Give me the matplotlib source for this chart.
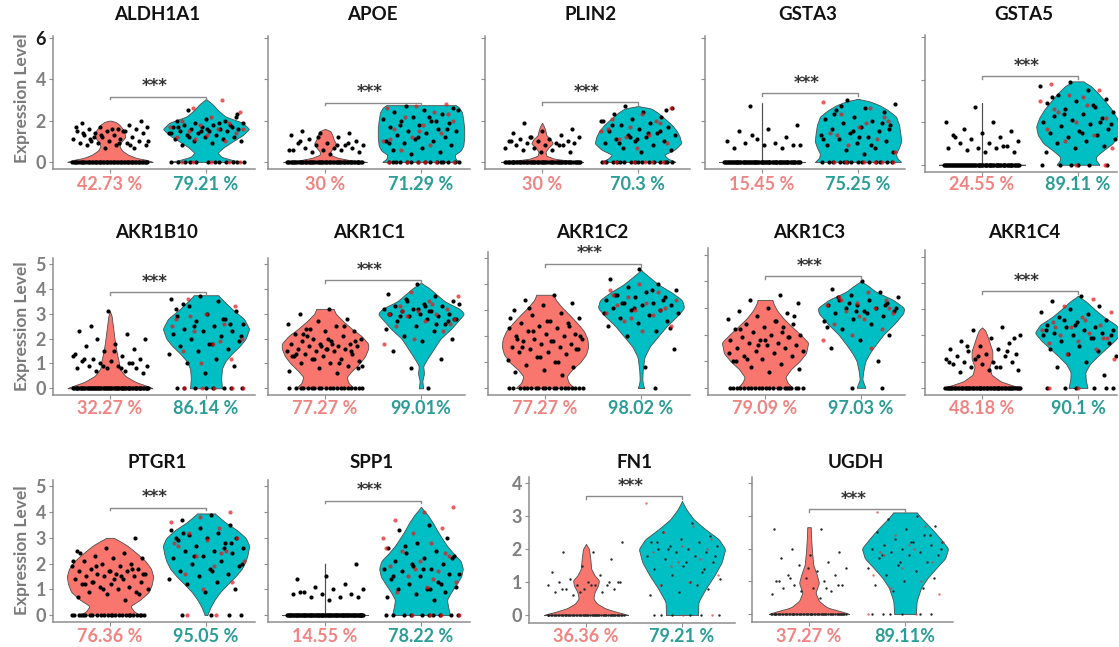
import numpy as np
import matplotlib
matplotlib.use("Agg")
import matplotlib.pyplot as plt

plt.rcParams['font.family'] = ['Lato', 'DejaVu Sans']

# ---------------- DATA ----------------
genes = ["ALDH1A1", "APOE", "PLIN2", "GSTA3", "GSTA5",
         "AKR1B10", "AKR1C1", "AKR1C2", "AKR1C3", "AKR1C4",
         "PTGR1", "SPP1", "FN1", "UGDH"]

pct_low = ["42.73 %", "30 %", "30 %", "15.45 %", "24.55 %",
           "32.27 %", "77.27 %", "77.27 %", "79.09 %", "48.18 %",
           "76.36 %", "14.55 %", "36.36 %", "37.27 %"]
pct_high = ["79.21 %", "71.29 %", "70.3 %", "75.25 %", "89.11 %",
            "86.14 %", "99.01%", "98.02 %", "97.03 %", "90.1 %",
            "95.05 %", "78.22 %", "79.21 %", "89.11%"]
signif = "***"
bracket_level = [3.16, 2.87, 2.9, 3.33, 4.15,
                 3.88, 4.36, 4.8, 4.18, 3.68,
                 4.18, 4.45, 3.6, 3.2]

# violin outlines: expression levels and relative half-widths
low_shape_y = {
 "ALDH1A1": [0, 0.1, 0.2, 0.35, 0.55, 0.75, 0.95, 1.2, 1.5, 1.8, 1.95, 2.0],
 "APOE":    [0, 0.08, 0.2, 0.35, 0.5, 0.7, 0.9, 1.1, 1.3, 1.5, 1.6],
 "PLIN2":   [0, 0.05, 0.15, 0.3, 0.5, 0.7, 0.9, 1.1, 1.3, 1.5, 1.7, 1.9],
 "GSTA3":   [0, 0.03, 2.85],
 "GSTA5":   [0, 0.03, 2.9],
 "AKR1B10": [0, 0.1, 0.25, 0.5, 0.8, 1.1, 1.4, 1.8, 2.2, 2.6, 2.9, 3.1],
 "AKR1C1":  [0, 0.2, 0.45, 0.7, 1.0, 1.3, 1.6, 1.8, 2.1, 2.4, 2.7, 3.0, 3.2],
 "AKR1C2":  [0, 0.2, 0.45, 0.7, 1.0, 1.3, 1.6, 1.9, 2.2, 2.5, 2.8, 3.1, 3.4, 3.6],
 "AKR1C3":  [0, 0.2, 0.4, 0.7, 1.0, 1.3, 1.7, 2.0, 2.3, 2.6, 2.9, 3.15, 3.3],
 "AKR1C4":  [0, 0.1, 0.25, 0.5, 0.8, 1.1, 1.4, 1.7, 2.0, 2.2, 2.3],
 "PTGR1":   [0, 0.15, 0.35, 0.6, 0.9, 1.2, 1.5, 1.8, 2.1, 2.4, 2.7, 2.9, 3.0],
 "SPP1":    [0, 0.03, 2.0],
 "FN1":     [0, 0.1, 0.2, 0.35, 0.5, 0.7, 0.9, 1.05, 1.2, 1.4, 1.7, 2.0, 2.15],
 "UGDH":    [0, 0.1, 0.2, 0.4, 0.65, 0.95, 1.2, 1.5, 1.9, 2.3, 2.65],
}
low_shape_w = {
 "ALDH1A1": [1, 0.85, 0.6, 0.42, 0.28, 0.22, 0.25, 0.35, 0.33, 0.22, 0.12, 0],
 "APOE":    [1, 0.6, 0.3, 0.12, 0.12, 0.2, 0.25, 0.2, 0.17, 0.12, 0],
 "PLIN2":   [1, 0.7, 0.3, 0.1, 0.08, 0.15, 0.25, 0.2, 0.1, 0.08, 0.05, 0],
 "GSTA3":   [1, 0.004, 0.004],
 "GSTA5":   [1, 0.004, 0.004],
 "AKR1B10": [1, 0.85, 0.6, 0.35, 0.22, 0.2, 0.16, 0.12, 0.09, 0.06, 0.04, 0],
 "AKR1C1":  [0.68, 0.55, 0.5, 0.62, 0.8, 0.93, 1.0, 1.0, 0.85, 0.62, 0.42, 0.25, 0.2],
 "AKR1C2":  [0.68, 0.55, 0.5, 0.62, 0.82, 0.95, 1.0, 0.98, 0.9, 0.75, 0.58, 0.4, 0.25, 0.2],
 "AKR1C3":  [0.64, 0.52, 0.47, 0.6, 0.8, 0.95, 1.0, 0.82, 0.62, 0.43, 0.28, 0.2, 0.17],
 "AKR1C4":  [0.92, 0.7, 0.43, 0.22, 0.17, 0.24, 0.24, 0.18, 0.12, 0.07, 0],
 "PTGR1":   [0.69, 0.55, 0.47, 0.7, 0.9, 0.97, 1.0, 0.95, 0.82, 0.62, 0.4, 0.2, 0.08],
 "SPP1":    [1, 0.004, 0.004],
 "FN1":     [1, 0.7, 0.45, 0.25, 0.17, 0.2, 0.28, 0.3, 0.2, 0.12, 0.1, 0.07, 0],
 "UGDH":    [0.96, 0.7, 0.42, 0.23, 0.15, 0.23, 0.18, 0.1, 0.07, 0.05, 0.04],
}
high_shape_y = {
 "ALDH1A1": [0, 0.1, 0.25, 0.45, 0.7, 1.0, 1.3, 1.6, 1.9, 2.2, 2.5, 2.8, 3.05],
 "APOE":    [0, 0.15, 0.35, 0.55, 0.8, 1.2, 1.6, 2.0, 2.4, 2.65, 2.75],
 "PLIN2":   [0, 0.15, 0.35, 0.6, 0.9, 1.2, 1.5, 1.8, 2.1, 2.4, 2.6, 2.7],
 "GSTA3":   [0, 0.2, 0.4, 0.7, 1.0, 1.4, 1.8, 2.2, 2.5, 2.75, 2.95, 3.05],
 "GSTA5":   [0, 0.2, 0.4, 0.7, 1.0, 1.4, 1.8, 2.2, 2.6, 3.0, 3.4, 3.7, 3.92],
 "AKR1B10": [0, 0.4, 0.8, 1.1, 1.4, 1.7, 2.0, 2.4, 2.8, 3.2, 3.5, 3.75],
 "AKR1C1":  [0, 0.3, 0.6, 0.9, 1.2, 1.6, 2.0, 2.4, 2.8, 3.0, 3.2, 3.5, 3.8, 4.05, 4.25],
 "AKR1C2":  [0, 0.1, 0.3, 0.7, 1.2, 1.6, 2.0, 2.4, 2.8, 3.1, 3.4, 3.7, 4.0, 4.3, 4.55],
 "AKR1C3":  [0, 0.1, 0.3, 0.6, 1.0, 1.3, 1.6, 2.0, 2.4, 2.8, 3.0, 3.3, 3.6, 3.85, 4.0],
 "AKR1C4":  [0, 0.3, 0.6, 0.9, 1.2, 1.5, 1.8, 2.1, 2.4, 2.7, 3.0, 3.3, 3.5],
 "PTGR1":   [0, 0.3, 0.6, 0.9, 1.2, 1.5, 1.8, 2.1, 2.4, 2.7, 3.0, 3.3, 3.6, 3.95],
 "SPP1":    [0, 0.3, 0.6, 0.9, 1.2, 1.5, 1.8, 2.1, 2.4, 2.7, 3.0, 3.3, 3.6, 3.9, 4.2],
 "FN1":     [0, 0.4, 0.8, 1.2, 1.6, 2.0, 2.3, 2.6, 2.9, 3.2, 3.45],
 "UGDH":    [0, 0.4, 0.8, 1.1, 1.4, 1.7, 2.0, 2.3, 2.6, 2.9, 3.1],
}
high_shape_w = {
 "ALDH1A1": [0.85, 0.6, 0.35, 0.27, 0.4, 0.62, 0.85, 1.0, 0.85, 0.45, 0.28, 0.15, 0],
 "APOE":    [0.9, 0.8, 0.78, 0.92, 0.98, 1.0, 1.0, 0.98, 0.95, 0.88, 0.8],
 "PLIN2":   [0.88, 0.7, 0.6, 0.85, 1.0, 0.97, 0.9, 0.78, 0.62, 0.45, 0.3, 0],
 "GSTA3":   [1, 0.9, 0.88, 0.95, 1.0, 0.98, 0.95, 0.88, 0.7, 0.5, 0.25, 0],
 "GSTA5":   [0.5, 0.42, 0.42, 0.6, 0.8, 0.93, 0.97, 0.9, 0.78, 0.62, 0.45, 0.3, 0.12],
 "AKR1B10": [0.37, 0.35, 0.37, 0.45, 0.6, 0.78, 0.92, 1.0, 0.88, 0.6, 0.42, 0.28],
 "AKR1C1":  [0.05, 0.03, 0.07, 0.05, 0.15, 0.3, 0.45, 0.7, 0.9, 1.0, 0.9, 0.55, 0.35, 0.18, 0],
 "AKR1C2":  [0.08, 0.05, 0.03, 0.04, 0.08, 0.2, 0.4, 0.6, 0.85, 1.0, 0.95, 0.7, 0.4, 0.18, 0],
 "AKR1C3":  [0.1, 0.08, 0.03, 0.05, 0.1, 0.2, 0.33, 0.52, 0.77, 0.98, 1.0, 0.75, 0.35, 0.15, 0],
 "AKR1C4":  [0.22, 0.18, 0.17, 0.27, 0.45, 0.65, 0.85, 1.0, 0.88, 0.6, 0.38, 0.18, 0],
 "PTGR1":   [0.03, 0.1, 0.2, 0.33, 0.5, 0.68, 0.83, 0.92, 0.97, 1.0, 0.92, 0.72, 0.45, 0.2],
 "SPP1":    [0.67, 0.63, 0.6, 0.7, 0.82, 0.93, 0.97, 0.92, 0.75, 0.6, 0.48, 0.37, 0.27, 0.15, 0],
 "FN1":     [0.37, 0.38, 0.55, 0.75, 0.92, 1.0, 0.85, 0.54, 0.27, 0.1, 0],
 "UGDH":    [0.25, 0.27, 0.37, 0.52, 0.72, 0.93, 1.0, 0.82, 0.62, 0.4, 0.27],
}

# cells (points): non-zero expression values and number of zero cells
low_points = {
 "ALDH1A1": [1.9,1.8,1.7,1.7,1.6,1.6,1.6,1.5,1.5,1.5,1.4,1.4,1.3,1.3,1.2,1.2,1.1,1.1,1.0,1.0,1.0,0.9,0.9,0.9,0.8,0.8,0.8,0.7,0.7,1.7,1.5,1.2,2.0,1.6,1.4,0.8,1.3,1.0,0.9,1.1],
 "APOE":    [1.5,1.4,1.4,1.3,1.2,1.1,1.0,0.9,0.9,0.8,0.8,0.8,0.7,0.7,0.7,0.6,0.6,0.6,0.5,0.5,0.4,1.0,0.9,1.2,0.6,0.8],
 "PLIN2":   [1.9,1.6,1.5,1.4,1.3,1.2,1.2,1.1,1.1,1.0,1.0,1.0,0.9,0.9,0.9,0.8,0.8,0.8,0.7,0.7,0.6,0.6,0.5,0.5,1.0,0.8,1.2],
 "GSTA3":   [2.7,1.8,1.6,1.5,1.2,1.1,1.0,0.9,0.9,0.8,0.8,0.7,0.7,1.3,0.8],
 "GSTA5":   [2.7,2.0,2.0,1.7,1.6,1.5,1.4,1.3,1.2,1.1,1.0,1.0,0.9,0.8,0.8,0.8,0.7,0.6,0.6,1.3,0.9],
 "AKR1B10": [3.1,2.3,2.2,2.0,2.0,1.8,1.7,1.6,1.5,1.4,1.3,1.2,1.2,1.1,1.1,1.0,1.0,0.9,0.9,0.9,0.8,0.8,0.8,0.7,0.7,0.6,1.5,1.2,1.0,0.9,1.3,0.8,2.5],
 "AKR1C1":  [3.2,3.0,2.8,2.7,2.6,2.5,2.4,2.3,2.3,2.2,2.1,2.0,2.0,1.9,1.9,1.8,1.8,1.8,1.7,1.7,1.7,1.6,1.6,1.6,1.5,1.5,1.5,1.4,1.4,1.3,1.3,1.2,1.2,1.1,1.0,1.0,0.9,0.8,0.7,0.6,2.1,1.9,1.6,1.4,2.5,1.2,0.9,1.8,2.2,1.5,1.7,1.3,1.0,2.4,0.8,2.0],
 "AKR1C2":  [3.6,3.4,3.3,3.2,3.0,2.9,2.8,2.7,2.6,2.5,2.5,2.4,2.3,2.3,2.2,2.1,2.1,2.0,2.0,1.9,1.9,1.8,1.8,1.7,1.7,1.6,1.6,1.5,1.5,1.4,1.4,1.3,1.2,1.1,1.0,0.9,0.8,0.7,0.6,0.5,2.2,2.0,1.8,1.6,2.4,1.2,2.7,1.0,3.1,1.5,2.6,1.9],
 "AKR1C3":  [3.5,3.3,3.2,3.0,2.9,2.8,2.7,2.6,2.5,2.4,2.4,2.3,2.2,2.1,2.1,2.0,2.0,1.9,1.9,1.8,1.8,1.7,1.7,1.6,1.6,1.5,1.5,1.4,1.4,1.3,1.2,1.2,1.1,1.0,0.9,0.8,0.7,0.6,2.2,1.9,1.6,1.3,2.5,1.1,2.7,1.8,1.0,2.3],
 "AKR1C4":  [2.3,2.2,2.0,1.9,1.8,1.7,1.6,1.5,1.5,1.4,1.3,1.3,1.2,1.2,1.1,1.1,1.0,1.0,1.0,0.9,0.9,0.8,0.8,0.7,0.7,0.6,1.4,1.2,1.0,0.8,1.6,1.9],
 "PTGR1":   [3.0,2.6,2.5,2.4,2.3,2.2,2.2,2.1,2.0,2.0,1.9,1.9,1.8,1.8,1.7,1.7,1.7,1.6,1.6,1.6,1.5,1.5,1.5,1.4,1.4,1.3,1.3,1.2,1.2,1.1,1.1,1.0,1.0,0.9,0.9,0.8,0.7,0.6,1.9,1.6,1.4,1.2,1.8,1.0,2.1,1.5,1.3,0.8,1.7,2.4],
 "SPP1":    [2.0,1.5,1.4,1.2,1.1,1.0,1.0,0.9,0.8,0.8,0.8,0.7,0.7,0.7,0.6,0.9],
 "FN1":     [2.2,1.9,1.9,1.7,1.5,1.3,1.2,1.1,1.0,1.0,1.0,0.9,0.9,0.9,0.9,0.8,0.8,0.8,0.7,0.7,0.6,1.0,0.9,0.8,1.0,0.7],
 "UGDH":    [2.6,2.6,2.0,1.9,1.8,1.7,1.6,1.5,1.4,1.3,1.2,1.2,1.1,1.0,1.0,0.9,0.9,0.8,0.8,0.7,0.7,0.6,0.5,1.1,0.9,1.4,1.0,0.8],
}
low_zero_count = {"ALDH1A1": 55, "APOE": 60, "PLIN2": 60, "GSTA3": 80, "GSTA5": 75,
                  "AKR1B10": 70, "AKR1C1": 20, "AKR1C2": 20, "AKR1C3": 22, "AKR1C4": 60,
                  "PTGR1": 25, "SPP1": 90, "FN1": 60, "UGDH": 60}

high_points_black = {
 "ALDH1A1": [2.5,2.2,2.1,2.0,2.0,1.9,1.9,1.8,1.8,1.7,1.7,1.7,1.6,1.6,1.6,1.5,1.5,1.5,1.4,1.4,1.3,1.3,1.2,1.2,1.1,1.1,1.0,1.0,0.9,0.8,1.8,1.5,1.4,1.9,1.2,2.3,1.6,1.7],
 "APOE":    [2.7,2.6,2.5,2.4,2.3,2.2,2.1,2.0,2.0,1.9,1.8,1.7,1.6,1.5,1.5,1.4,1.3,1.2,1.1,1.0,1.0,0.9,0.8,0.7,0.6,0.5,0.4,2.5,2.2,1.8,1.6,1.2,0.9,2.0],
 "PLIN2":   [2.7,2.6,2.4,2.3,2.2,2.1,2.0,1.9,1.8,1.7,1.6,1.5,1.4,1.3,1.3,1.2,1.1,1.0,1.0,0.9,0.8,0.7,0.6,0.5,1.8,1.5,1.2,2.0,1.4,0.9,2.5,1.1],
 "GSTA3":   [3.0,2.8,2.6,2.5,2.4,2.2,2.1,2.0,1.9,1.8,1.7,1.6,1.5,1.4,1.3,1.2,1.1,1.0,0.9,0.8,0.7,0.6,0.5,0.4,2.3,1.9,1.5,1.1,0.8,2.7,1.6,1.2],
 "GSTA5":   [3.9,3.7,3.5,3.3,3.1,3.0,2.9,2.7,2.6,2.5,2.4,2.3,2.2,2.1,2.0,1.9,1.8,1.7,1.6,1.5,1.4,1.3,1.2,1.1,1.0,0.9,0.8,0.6,2.8,2.4,1.9,1.5,3.2,2.0],
 "AKR1B10": [3.7,3.6,3.5,3.3,3.1,3.0,2.9,2.8,2.7,2.6,2.5,2.4,2.3,2.3,2.2,2.1,2.0,1.9,1.8,1.7,1.6,1.5,1.4,1.2,1.0,0.9,0.6,3.2,2.8,2.5,2.1,1.8,3.4,2.6],
 "AKR1C1":  [4.2,3.8,3.7,3.6,3.5,3.4,3.3,3.3,3.2,3.2,3.1,3.1,3.0,3.0,3.0,2.9,2.9,2.8,2.8,2.7,2.6,2.5,2.4,2.3,2.1,2.0,1.9,1.5,1.2,0.8,3.4,3.1,2.9,2.7,3.2,3.0,2.6,3.5,2.8,3.3],
 "AKR1C2":  [4.6,4.2,4.0,3.9,3.8,3.7,3.6,3.5,3.5,3.4,3.3,3.3,3.2,3.2,3.1,3.0,3.0,2.9,2.8,2.7,2.6,2.5,2.4,2.2,2.0,1.5,0.8,3.6,3.4,3.1,2.9,3.8,3.3,2.3],
 "AKR1C3":  [4.0,3.7,3.6,3.5,3.4,3.3,3.3,3.2,3.1,3.1,3.0,3.0,2.9,2.9,2.8,2.7,2.6,2.5,2.4,2.2,2.0,1.8,1.5,1.0,3.2,3.0,2.8,3.4,3.1,2.9,2.3],
 "AKR1C4":  [3.5,3.3,3.1,3.0,2.9,2.8,2.7,2.6,2.5,2.4,2.3,2.3,2.2,2.2,2.1,2.1,2.0,2.0,1.9,1.8,1.7,1.6,1.5,1.4,1.3,1.2,1.0,0.8,0.5,2.4,2.2,1.9,2.6,2.0],
 "PTGR1":   [3.9,3.7,3.5,3.4,3.3,3.2,3.1,3.0,3.0,2.9,2.8,2.7,2.6,2.5,2.5,2.4,2.3,2.2,2.1,2.0,1.9,1.8,1.7,1.6,1.5,1.4,1.3,1.2,1.0,0.9,3.0,2.6,2.3,2.0,1.7,3.2,2.8],
 "SPP1":    [3.5,3.3,3.0,2.8,2.6,2.5,2.4,2.3,2.2,2.1,2.0,1.9,1.8,1.8,1.7,1.6,1.5,1.4,1.3,1.2,1.1,1.0,1.0,0.9,0.8,0.7,0.6,2.7,2.2,1.8,1.5,1.2,2.0,1.6,1.0],
 "FN1":     [2.8,2.5,2.4,2.3,2.2,2.2,2.1,2.1,2.0,2.0,1.9,1.9,1.8,1.8,1.7,1.6,1.5,1.4,1.3,1.2,1.1,1.0,0.9,0.8,0.7,0.6,0.9,2.0,1.8,1.6,2.2,1.4],
 "UGDH":    [3.0,2.9,2.7,2.6,2.5,2.4,2.3,2.2,2.2,2.1,2.1,2.0,2.0,1.9,1.9,1.8,1.8,1.7,1.6,1.5,1.4,1.3,1.2,1.1,1.0,0.9,0.8,0.7,2.0,2.2,1.8,2.4,1.6],
}
high_points_red = {
 "ALDH1A1": [3.0,2.6,2.4,2.2,2.0,1.9,1.8,1.7,1.6,1.5,1.4,1.3,1.2,1.0,1.1,1.6],
 "APOE":    [2.8,2.7,2.6,2.4,2.2,2.0,1.8,1.6,1.4,1.2,1.0,0.8,0.6,2.3,1.5,1.1],
 "PLIN2":   [2.6,2.3,2.1,1.9,1.7,1.5,1.3,1.1,0.9,0.7,1.6,2.0,1.2],
 "GSTA3":   [2.9,2.6,2.3,2.0,1.7,1.4,1.1,0.8,0.5,1.9,1.3,2.2],
 "GSTA5":   [3.8,3.5,3.3,3.0,2.8,2.5,2.2,2.0,1.7,1.4,1.1,0.8,3.2,2.6],
 "AKR1B10": [3.6,3.3,3.0,2.8,2.6,2.3,2.0,1.8,1.5,1.2,1.0,2.5,1.9,2.9],
 "AKR1C1":  [3.9,3.7,3.5,3.3,3.2,3.1,3.0,3.0,2.9,2.8,2.7,2.5,2.3,2.0,1.8,3.4,3.1,2.6],
 "AKR1C2":  [4.0,3.8,3.7,3.5,3.4,3.3,3.2,3.1,3.0,2.9,2.8,2.6,2.4,2.2,3.6,3.0,2.7],
 "AKR1C3":  [3.6,3.4,3.3,3.2,3.1,3.0,2.9,2.8,2.6,2.4,2.2,2.0,1.8,1.5,3.3,3.0,2.7],
 "AKR1C4":  [3.4,3.1,2.9,2.7,2.5,2.4,2.3,2.2,2.1,2.0,1.9,1.8,1.7,1.5,1.3,1.1,2.6,2.3,1.9],
 "PTGR1":   [4.0,3.8,3.6,3.4,3.2,3.0,2.9,2.7,2.5,2.3,2.1,1.9,1.6,1.3,1.0,2.8,2.4],
 "SPP1":    [4.2,4.0,3.7,3.4,3.2,3.0,2.8,2.5,2.3,2.1,1.9,1.7,1.5,1.3,1.1,0.9,2.4,1.8,2.6,1.4],
 "FN1":     [3.4,2.7,2.5,2.3,2.1,1.9,1.7,1.5,1.2,1.0,0.9,2.0,1.6],
 "UGDH":    [3.1,2.7,2.4,2.2,2.0,1.8,1.6,1.4,1.2,1.0,0.8,0.6,2.1,1.9],
}
high_zero_black = {"ALDH1A1": 12, "APOE": 15, "PLIN2": 16, "GSTA3": 14, "GSTA5": 6,
                   "AKR1B10": 8, "AKR1C1": 1, "AKR1C2": 1, "AKR1C3": 2, "AKR1C4": 6,
                   "PTGR1": 4, "SPP1": 10, "FN1": 6, "UGDH": 6}
high_zero_red = {"ALDH1A1": 5, "APOE": 6, "PLIN2": 6, "GSTA3": 6, "GSTA5": 2,
                 "AKR1B10": 5, "AKR1C1": 0, "AKR1C2": 0, "AKR1C3": 0, "AKR1C4": 2,
                 "PTGR1": 2, "SPP1": 4, "FN1": 2, "UGDH": 2}

# ---------------- LAYOUT / STYLE ----------------
W, H = 1119, 647
RED = '#F8766D'
TEAL = '#00BFC4'
PCT_RED = '#F08482'
PCT_TEAL = '#2A9D97'
AXC = '#8E8E8E'
TICKC = '#7F7F7F'

# pixel boxes (left, top, right, bottom)
boxes = {
 "ALDH1A1": (53, 36, 255, 169), "APOE": (268, 36, 470, 169), "PLIN2": (485, 36, 690, 169),
 "GSTA3": (705, 36, 905, 169), "GSTA5": (925, 35, 1117, 172),
 "AKR1B10": (53, 258, 255, 395), "AKR1C1": (268, 258, 465, 395), "AKR1C2": (488, 252, 690, 395),
 "AKR1C3": (708, 248, 905, 395), "AKR1C4": (925, 250, 1117, 395),
 "PTGR1": (53, 480, 255, 622), "SPP1": (268, 480, 470, 622),
 "FN1": (529, 477, 735, 623), "UGDH": (752, 477, 953, 622),
}
row_of = {g: (0 if i < 5 else (1 if i < 10 else 2)) for i, g in enumerate(genes)}
title_y = [14, 233, 463]
pct_y = [185, 408, 636]
ylab_y = [98, 326, 550]
labelled = {"ALDH1A1", "AKR1B10", "PTGR1", "FN1"}
small_dots = {"FN1", "UGDH"}


def ylim_for(g):
    r = row_of[g]
    if r == 0:
        return (-0.34, 6.1), [0, 2, 4, 6]
    if g in ("FN1", "UGDH"):
        return (-0.24, 4.18), [0, 1, 2, 3, 4]
    return (-0.27, 5.25), [0, 1, 2, 3, 4, 5]


def jitter(n, phase):
    k = np.arange(n)
    return ((k * 0.6180339887 + phase) % 1.0 - 0.5) * 0.8


def smooth_outline(ys, ws):
    ys = np.asarray(ys, float)
    ws = np.asarray(ws, float) * 0.45
    yy = np.linspace(ys[0], ys[-1], 400)
    ww = np.interp(yy, ys, ws)
    if len(ys) > 3:
        k = 13
        ker = np.ones(k) / k
        pad = np.pad(ww, k // 2, mode='edge')
        ww = np.convolve(pad, ker, mode='valid')
    return yy, ww


def draw_violin(ax, xc, ys, ws, color):
    yy, ww = smooth_outline(ys, ws)
    ax.fill_betweenx(yy, xc - ww, xc + ww, facecolor=color,
                     edgecolor='#4d4d4d', linewidth=0.6, zorder=2)


fig = plt.figure(figsize=(W / 100, H / 100), dpi=100)

PXU = 96.0  # pixels per category unit
for gi, g in enumerate(genes):
    l, t, r, b = boxes[g]
    ax = fig.add_axes([l / W, 1 - b / H, (r - l) / W, (b - t) / H])
    x0 = 1 - 57 / PXU
    ax.set_xlim(x0, x0 + (r - l) / PXU)
    ylim, yt = ylim_for(g)
    ax.set_ylim(*ylim)
    ax.set_yticks(yt)
    ax.set_xticks([1, 2])
    ax.set_xticklabels([])
    for s in ('top', 'right'):
        ax.spines[s].set_visible(False)
    for s in ('left', 'bottom'):
        ax.spines[s].set_color(AXC)
        ax.spines[s].set_linewidth(1.1)
    ax.tick_params(axis='both', length=3, width=0.8, color=AXC, pad=2)
    if g in labelled:
        ax.set_yticklabels([str(v) for v in yt], fontsize=13, fontweight='bold', color=TICKC)
        if row_of[g] == 0:
            ax.get_yticklabels()[-1].set_color('#1a1a1a')
    else:
        ax.set_yticklabels([])

    # violins
    draw_violin(ax, 1, low_shape_y[g], low_shape_w[g], RED)
    draw_violin(ax, 2, high_shape_y[g], high_shape_w[g], TEAL)

    sz = 3.0 if g in small_dots else 9.0
    blk = '#262626' if g in small_dots else 'black'
    redc = '#E5343A' if g in small_dots else '#E8161B'
    ra = 0.7
    # points, low group
    lp = np.asarray(low_points[g])
    ax.scatter(1 + jitter(len(lp), 0.13 + gi * 0.07), lp, s=sz, c=blk, lw=0, zorder=3)
    nz = low_zero_count[g]
    ax.scatter(1 + jitter(nz, 0.41 + gi * 0.05), np.zeros(nz), s=sz, c=blk, lw=0, zorder=3)
    # points, high group
    hb = np.asarray(high_points_black[g])
    ax.scatter(2 + jitter(len(hb), 0.27 + gi * 0.03), hb, s=sz, c=blk, lw=0, zorder=3)
    nzb = high_zero_black[g]
    ax.scatter(2 + jitter(nzb, 0.05 + gi * 0.09), np.zeros(nzb), s=sz, c=blk, lw=0, zorder=3)
    hr = np.asarray(high_points_red[g])
    ax.scatter(2 + jitter(len(hr), 0.71 + gi * 0.11), hr, s=sz, c=redc, alpha=ra, lw=0, zorder=3)
    nzr = high_zero_red[g]
    ax.scatter(2 + jitter(nzr, 0.33 + gi * 0.13), np.zeros(nzr), s=sz, c=redc, alpha=ra, lw=0, zorder=3)

    # significance bracket
    hgt = bracket_level[gi]
    drop = 0.02 * (ylim[1] - ylim[0])
    ax.plot([1, 1, 2, 2], [hgt - drop, hgt, hgt, hgt - drop], color='#8a8a8a', lw=1.0, zorder=4,
            clip_on=False)
    ax.text(1.46, hgt + 0.01 * (ylim[1] - ylim[0]), signif, ha='center', va='bottom',
            fontsize=12, fontweight='bold', color='#333333', zorder=5,
            family=['DejaVu Sans'])

    # percent labels
    pr = row_of[g]
    for xc, txt, col in ((1, pct_low[gi], PCT_RED), (2, pct_high[gi], PCT_TEAL)):
        xp = l + 57 + (xc - 1) * PXU
        fig.text(xp / W, 1 - pct_y[pr] / H, txt, ha='center', va='center',
                 fontsize=13, fontweight='bold', color=col)

    # title
    fig.text(((l + r) / 2 + 3) / W, 1 - title_y[pr] / H, g, ha='center', va='center',
             fontsize=13.5, fontweight='bold', color='#111111')

for r in range(3):
    fig.text(22 / W, 1 - ylab_y[r] / H, "Expression Level", rotation=90, ha='center', va='center',
             fontsize=12.5, fontweight='bold', color='#7a7a7a')

fig.savefig("out.png", dpi=100, facecolor='white')
